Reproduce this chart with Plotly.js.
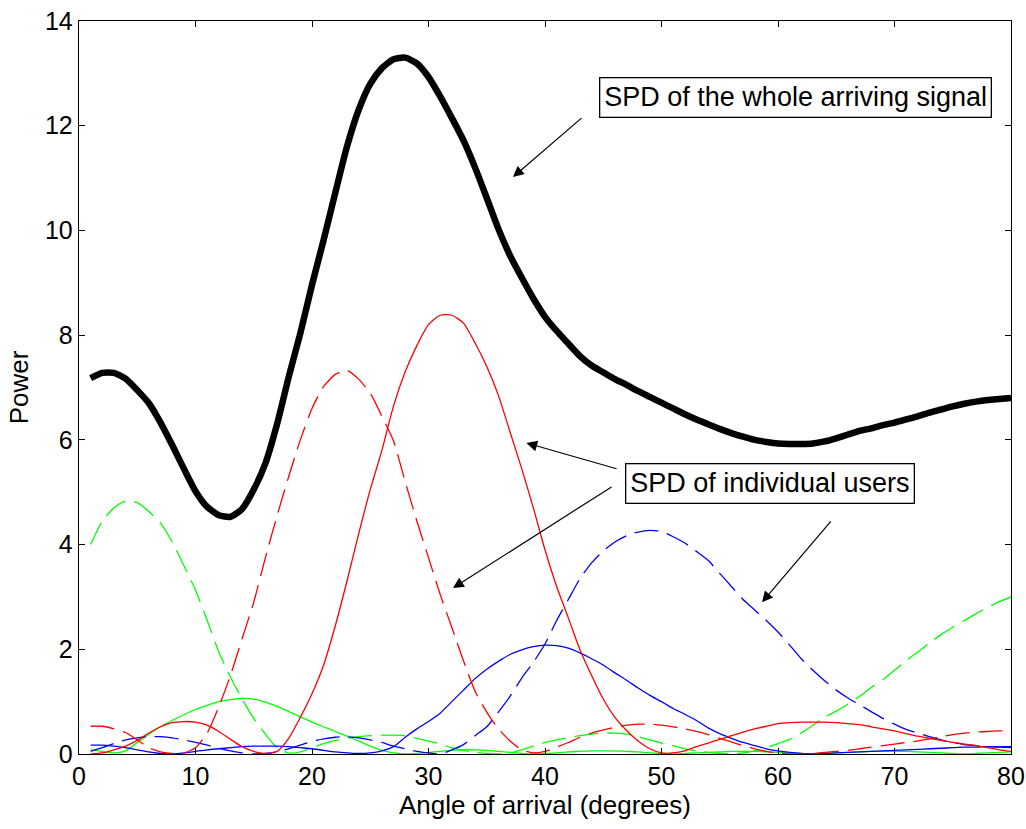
<!DOCTYPE html>
<html>
<head>
<meta charset="utf-8">
<script src="https://cdn.plot.ly/plotly-3.0.1.min.js"></script>
<style>html,body{margin:0;padding:0;background:#fff;}#chart{width:1026px;height:829px;}</style>
</head>
<body>
<div id="chart"></div>
<script>
const angle = [1,2,3,4,5,6,7,8,9,10,11,12,13,14,15,16,17,18,19,20,21,22,23,24,25,26,27,28,29,30,31,32,33,34,35,36,37,38,39,40,41,42,43,44,45,46,47,48,49,50,51,52,53,54,55,56,57,58,59,60,61,62,63,64,65,66,67,68,69,70,71,72,73,74,75,76,77,78,79,80];

const spdWhole = [7.18,7.28,7.28,7.17,6.95,6.7,6.33,5.9,5.45,5.02,4.72,4.56,4.53,4.68,5.05,5.55,6.3,7.2,8.04,8.96,9.82,10.72,11.6,12.3,12.8,13.1,13.27,13.3,13.19,12.93,12.56,12.15,11.72,11.2,10.62,10.03,9.52,9.1,8.7,8.35,8.08,7.84,7.6,7.42,7.29,7.16,7.05,6.93,6.82,6.71,6.6,6.49,6.39,6.3,6.21,6.13,6.06,6.0,5.96,5.93,5.92,5.92,5.93,5.97,6.03,6.1,6.17,6.22,6.28,6.33,6.39,6.45,6.52,6.58,6.64,6.69,6.73,6.76,6.78,6.8];

const redSolid = [0.0,0.02,0.08,0.15,0.26,0.4,0.52,0.6,0.62,0.61,0.55,0.43,0.28,0.14,0.05,0.01,0.05,0.3,0.7,1.15,1.7,2.45,3.3,4.2,5.05,5.8,6.65,7.3,7.8,8.2,8.38,8.38,8.23,7.85,7.4,6.85,6.15,5.45,4.7,3.9,3.2,2.6,1.99,1.5,1.05,0.7,0.45,0.25,0.1,0.02,0.02,0.06,0.14,0.21,0.28,0.35,0.42,0.48,0.53,0.58,0.6,0.61,0.61,0.61,0.6,0.58,0.56,0.52,0.48,0.44,0.39,0.34,0.3,0.26,0.22,0.19,0.16,0.12,0.08,0.05];

const redDashed = [0.53,0.53,0.48,0.41,0.27,0.12,0.04,0.01,0.02,0.12,0.4,0.9,1.5,2.2,2.9,3.75,4.55,5.3,6.0,6.6,7.02,7.25,7.33,7.16,6.89,6.45,5.98,5.2,4.45,3.75,3.05,2.42,1.78,1.2,0.8,0.48,0.25,0.08,0.02,0.05,0.13,0.22,0.32,0.4,0.46,0.51,0.55,0.57,0.57,0.55,0.52,0.48,0.43,0.37,0.3,0.23,0.16,0.1,0.05,0.02,0.0,0.0,0.01,0.03,0.05,0.07,0.1,0.13,0.16,0.19,0.22,0.25,0.29,0.33,0.37,0.4,0.42,0.43,0.44,0.45];

const greenSolid = [0.08,0.05,0.02,0.06,0.22,0.38,0.52,0.64,0.75,0.85,0.93,1.0,1.04,1.06,1.05,0.99,0.91,0.81,0.71,0.61,0.52,0.43,0.34,0.25,0.15,0.07,0.02,0.0,0.01,0.03,0.05,0.07,0.08,0.08,0.07,0.05,0.03,0.01,0.0,0.01,0.02,0.04,0.05,0.06,0.06,0.06,0.05,0.04,0.02,0.01,0.0,0.01,0.02,0.03,0.04,0.05,0.05,0.05,0.04,0.03,0.02,0.01,0.0,0.01,0.02,0.03,0.04,0.05,0.05,0.05,0.05,0.04,0.03,0.02,0.01,0.0,0.01,0.02,0.03,0.04];

const greenDashed = [4.0,4.45,4.7,4.83,4.8,4.63,4.41,4.05,3.6,3.13,2.55,1.95,1.47,1.05,0.68,0.38,0.12,0.02,0.04,0.12,0.2,0.26,0.3,0.33,0.35,0.36,0.36,0.35,0.3,0.25,0.19,0.12,0.07,0.03,0.01,0.0,0.02,0.08,0.15,0.22,0.27,0.31,0.35,0.38,0.4,0.4,0.38,0.33,0.27,0.21,0.16,0.1,0.06,0.03,0.01,0.0,0.02,0.06,0.12,0.2,0.28,0.4,0.55,0.7,0.82,0.95,1.1,1.27,1.42,1.6,1.78,1.95,2.12,2.28,2.42,2.55,2.68,2.8,2.91,3.0];

const blueSolid = [0.17,0.17,0.15,0.12,0.08,0.04,0.01,0.0,0.02,0.05,0.08,0.1,0.12,0.14,0.15,0.15,0.15,0.14,0.12,0.1,0.07,0.04,0.02,0.01,0.02,0.06,0.14,0.32,0.48,0.62,0.78,1.0,1.22,1.44,1.62,1.77,1.9,1.99,2.05,2.08,2.07,2.02,1.93,1.82,1.7,1.55,1.41,1.26,1.12,1.0,0.87,0.76,0.64,0.5,0.39,0.3,0.22,0.16,0.1,0.06,0.03,0.01,0.0,0.01,0.02,0.03,0.04,0.05,0.06,0.07,0.08,0.09,0.1,0.11,0.12,0.13,0.13,0.14,0.14,0.14];

const blueDashed = [0.05,0.12,0.2,0.27,0.31,0.33,0.33,0.31,0.27,0.22,0.17,0.11,0.06,0.02,0.0,0.01,0.04,0.1,0.17,0.24,0.29,0.32,0.33,0.31,0.27,0.22,0.15,0.1,0.05,0.02,0.0,0.08,0.18,0.35,0.52,0.8,1.1,1.45,1.75,2.1,2.55,2.95,3.35,3.65,3.88,4.05,4.17,4.24,4.27,4.25,4.15,4.03,3.87,3.7,3.45,3.2,2.95,2.75,2.55,2.33,2.08,1.82,1.6,1.4,1.22,1.07,0.94,0.81,0.68,0.57,0.47,0.4,0.33,0.27,0.22,0.18,0.16,0.14,0.13,0.12];

const xTicks = [0,10,20,30,40,50,60,70,80];
const yTicks = [0,2,4,6,8,10,12,14];

const FONT = 'Liberation Sans, Arial, sans-serif';
const DASH = '24px,9px';

function line(y, color, dash, width) {
  return {x: angle, y: y, type: 'scatter', mode: 'lines', hoverinfo: 'skip',
    line: {color: color, width: width || 1.3, dash: dash || 'solid', shape: 'spline', smoothing: 0.6}};
}

const traces = [
  line(greenSolid, '#00ff00'),
  line(greenDashed, '#00ff00', DASH),
  line(blueSolid, '#0000ff'),
  line(blueDashed, '#0000ff', DASH),
  line(redSolid, '#ff0000'),
  line(redDashed, '#ff0000', DASH),
  line(spdWhole, '#000000', 'solid', 6.5)
];

function arrow(tipX, tipY, tailX, tailY) {
  return {x: tipX, y: tipY, ax: tailX, ay: tailY, xref: 'x', yref: 'y', axref: 'x', ayref: 'y',
    text: '', showarrow: true, arrowhead: 2, arrowsize: 1.8, arrowwidth: 1.2, arrowcolor: '#000'};
}

const layout = {
  width: 1026, height: 829,
  margin: {l: 79, r: 15, t: 21, b: 75},
  paper_bgcolor: '#fff', plot_bgcolor: '#fff',
  showlegend: false,
  font: {family: FONT, size: 25, color: '#000'},
  xaxis: {
    range: [0, 80], tickvals: xTicks, ticktext: xTicks.map(String),
    ticks: 'inside', ticklen: 6, tickcolor: '#000', tickwidth: 1,
    showline: true, linecolor: '#000', linewidth: 1.3, mirror: 'ticks',
    showgrid: false, zeroline: false,
    tickfont: {family: FONT, size: 25, color: '#000'},
    title: {text: 'Angle of arrival (degrees)', font: {family: FONT, size: 26, color: '#000'}, standoff: 4}
  },
  yaxis: {
    range: [0, 14], tickvals: yTicks, ticktext: yTicks.map(String),
    ticks: 'inside', ticklen: 6, tickcolor: '#000', tickwidth: 1,
    showline: true, linecolor: '#000', linewidth: 1.3, mirror: 'ticks',
    showgrid: false, zeroline: false,
    tickfont: {family: FONT, size: 25, color: '#000'},
    title: {text: 'Power', font: {family: FONT, size: 26, color: '#000'}, standoff: 8}
  },
  annotations: [
    {x: 61.46, y: 12.53, xref: 'x', yref: 'y', text: 'SPD of the whole arriving signal', showarrow: false,
     xanchor: 'center', yanchor: 'middle', bordercolor: '#000', borderwidth: 1.3, borderpad: 4, bgcolor: '#fff',
     font: {family: FONT, size: 27, color: '#000'}},
    {x: 59.31, y: 5.16, xref: 'x', yref: 'y', text: 'SPD of individual users', showarrow: false,
     xanchor: 'center', yanchor: 'middle', bordercolor: '#000', borderwidth: 1.3, borderpad: 4, bgcolor: '#fff',
     font: {family: FONT, size: 27, color: '#000'}},
    arrow(37.25, 11.02, 43.26, 12.17),
    arrow(38.4, 5.94, 46.27, 5.44),
    arrow(32.1, 3.17, 45.84, 5.12),
    arrow(58.63, 2.9, 64.64, 4.47)
  ]
};

Plotly.newPlot('chart', traces, layout, {staticPlot: true, displayModeBar: false});
</script>
</body>
</html>
